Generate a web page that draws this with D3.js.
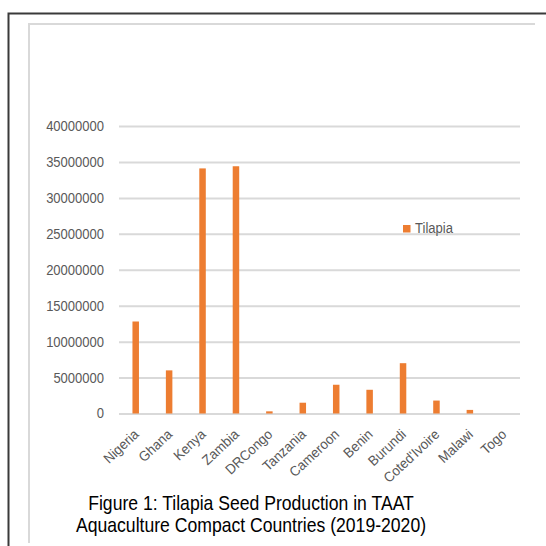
<!DOCTYPE html>
<html>
<head>
<meta charset="utf-8">
<script src="https://cdn.jsdelivr.net/npm/d3@7/dist/d3.min.js"></script>
<style>
  html, body { margin: 0; padding: 0; background: #fff; }
  svg { display: block; font-family: "Liberation Sans", Arial, sans-serif; }
</style>
</head>
<body>
<svg id="chart" width="546" height="546"></svg>
<script>
// Tilapia seed production per country (2019-2020)
const countries = ["Nigeria", "Ghana", "Kenya", "Zambia", "DRCongo", "Tanzania",
  "Cameroon", "Benin", "Burundi", "Coted'Ivoire", "Malawi", "Togo"];
const tilapia = [12800000, 6000000, 34100000, 34400000, 300000, 1500000,
  4000000, 3300000, 7000000, 1800000, 500000, 0];
const yTicks = [0, 5000000, 10000000, 15000000, 20000000, 25000000, 30000000, 35000000, 40000000];
const seriesName = "Tilapia";
const captionLines = ["Figure 1: Tilapia Seed Production in TAAT",
  "Aquaculture Compact Countries (2019-2020)"];

const svg = d3.select("#chart");
const orange = "#ED7D31";
const textGray = "#595959";

// outer page border and inner chart-area frame
svg.append("path").attr("d", "M8.5,546 V13.5 H546")
  .attr("fill", "none").attr("stroke", "#3a3a3a").attr("stroke-width", 2);
svg.append("path").attr("d", "M29,543 V24 H535")
  .attr("fill", "none").attr("stroke", "#d9d9d9").attr("stroke-width", 2);

const plot = { left: 119, right: 520, top: 126, bottom: 413.5 };

const x = d3.scaleBand().domain(countries).range([plot.left, plot.right]);
const y = d3.scaleLinear().domain([0, 40000000]).range([plot.bottom, plot.top]);

// horizontal gridlines + y labels
const yAxis = d3.axisLeft(y).tickValues(yTicks).tickSize(-(plot.right - plot.left))
  .tickPadding(0).tickFormat(d3.format("d"));
const gy = svg.append("g").attr("transform", `translate(${plot.left},0)`).call(yAxis);
gy.select(".domain").remove();
gy.selectAll(".tick line").attr("stroke", "#d9d9d9").attr("stroke-width", 2);
gy.selectAll(".tick text").attr("fill", textGray).attr("font-size", 14)
  .attr("font-family", "Liberation Sans, Arial, sans-serif")
  .attr("x", 0).attr("transform", "translate(-15,0) scale(0.93,1)");

// bars
const barW = 6.5;
svg.append("g").selectAll("rect").data(countries).join("rect")
  .attr("x", d => x(d) + x.bandwidth() / 2 - barW / 2)
  .attr("width", barW)
  .attr("y", (d, i) => y(tilapia[i]))
  .attr("height", (d, i) => y(0) - y(tilapia[i]))
  .attr("fill", orange);

// category labels, rotated
const xAxis = d3.axisBottom(x).tickSize(0).tickPadding(0);
const gx = svg.append("g").attr("transform", `translate(0,${plot.bottom})`).call(xAxis);
gx.select(".domain").remove();
gx.selectAll(".tick text")
  .attr("fill", textGray).attr("font-size", 14)
  .attr("font-family", "Liberation Sans, Arial, sans-serif")
  .attr("text-anchor", "end")
  .attr("dy", null).attr("y", 0)
  .attr("transform", "translate(4,22) rotate(-43) scale(0.95,1)");

// legend
const lg = svg.append("g").attr("transform", "translate(403,225)");
lg.append("rect").attr("width", 7.5).attr("height", 7.5).attr("fill", orange);
lg.append("text").attr("x", 12).attr("y", 8).attr("fill", textGray)
  .attr("font-size", 14).attr("transform", "scale(1,1)")
  .attr("textLength", 38).attr("lengthAdjust", "spacingAndGlyphs").text(seriesName);

// caption
svg.append("g").attr("transform", "translate(251,0) scale(0.88,1)")
  .selectAll("text").data(captionLines).join("text")
  .attr("x", 0).attr("y", (d, i) => 510 + i * 22)
  .attr("text-anchor", "middle").attr("fill", "#000")
  .attr("font-size", 20).text(d => d);
</script>
</body>
</html>
